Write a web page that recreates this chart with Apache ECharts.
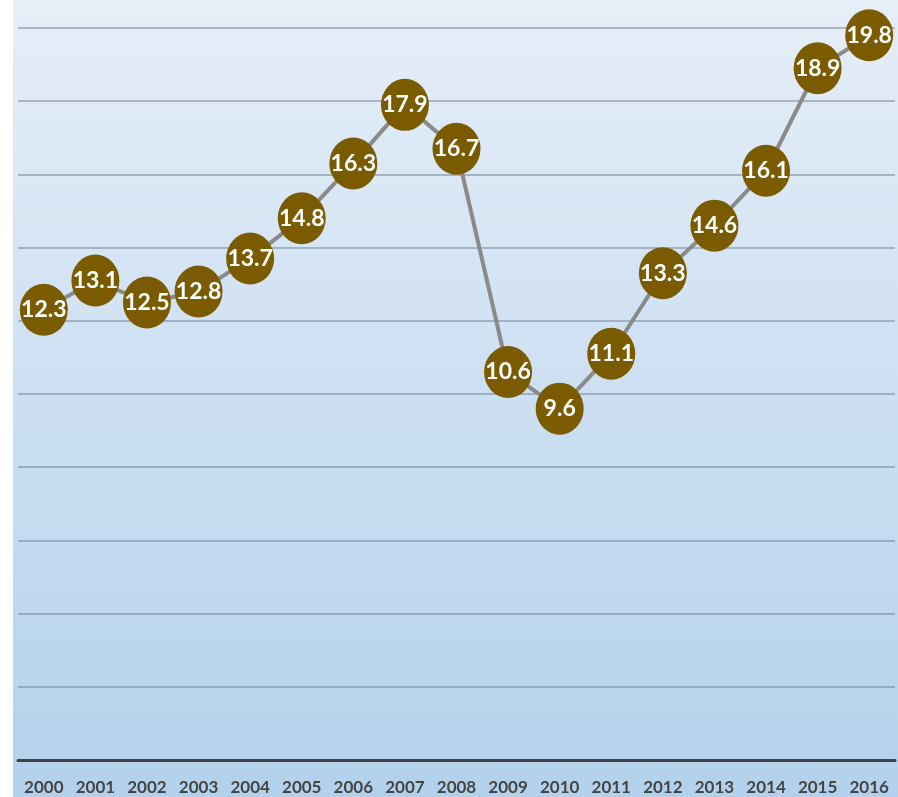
<!DOCTYPE html>
<html lang="en">
<head>
    <meta charset="UTF-8">
    <title>Line chart</title>
    <script src="https://cdn.jsdelivr.net/npm/echarts@6/dist/echarts.min.js"></script>
    <style>
        html, body { margin: 0; padding: 0; background: #fff; }
    </style>
</head>
<body>

<div id="main" style="width: 898px;height:797px;"></div>

<script>
    // data
    var years = ['2000', '2001', '2002', '2003', '2004', '2005', '2006', '2007', '2008',
        '2009', '2010', '2011', '2012', '2013', '2014', '2015', '2016'];
    var values = [12.3, 13.1, 12.5, 12.8, 13.7, 14.8, 16.3, 17.9, 16.7,
        10.6, 9.6, 11.1, 13.3, 14.6, 16.1, 18.9, 19.8];

    var mychart = echarts.init(document.getElementById('main'));

    var option = {
        backgroundColor: '#ffffff',
        animation: false,
        // blue gradient panel behind the plot
        graphic: [{
            type: 'rect',
            left: 13,
            top: 0,
            z: -10,
            silent: true,
            shape: {width: 885, height: 797},
            style: {
                fill: new echarts.graphic.LinearGradient(0, 0, 0, 1, [
                    {offset: 0, color: '#e6eef8'},
                    {offset: 1, color: '#b3d1ec'}
                ])
            }
        }],
        grid: {
            left: 18,
            right: 3,
            top: 28,
            bottom: 37
        },
        xAxis: {
            type: 'category',
            data: years,
            boundaryGap: true,
            axisLine: {lineStyle: {color: '#3f4347', width: 3}},
            axisTick: {show: false},
            axisLabel: {
                color: '#454545',
                fontFamily: 'Lato',
                fontWeight: 'bold',
                fontSize: 17,
                margin: 19
            }
        },
        yAxis: {
            type: 'value',
            min: 0,
            max: 20,
            interval: 2,
            axisLine: {show: false},
            axisTick: {show: false},
            axisLabel: {show: false},
            splitLine: {lineStyle: {color: 'rgba(100,118,138,0.45)', width: 2}}
        },
        series: [{
            type: 'line',
            data: values,
            symbol: 'circle',
            symbolSize: [48, 52],
            itemStyle: {color: '#7a5b00'},
            lineStyle: {color: '#8a8a8a', width: 4},
            label: {
                show: true,
                position: 'inside',
                color: '#ffffff',
                fontFamily: 'Lato',
                fontWeight: 'bold',
                fontSize: 23
            }
        }]
    };

    mychart.setOption(option);
</script>
</body>
</html>
